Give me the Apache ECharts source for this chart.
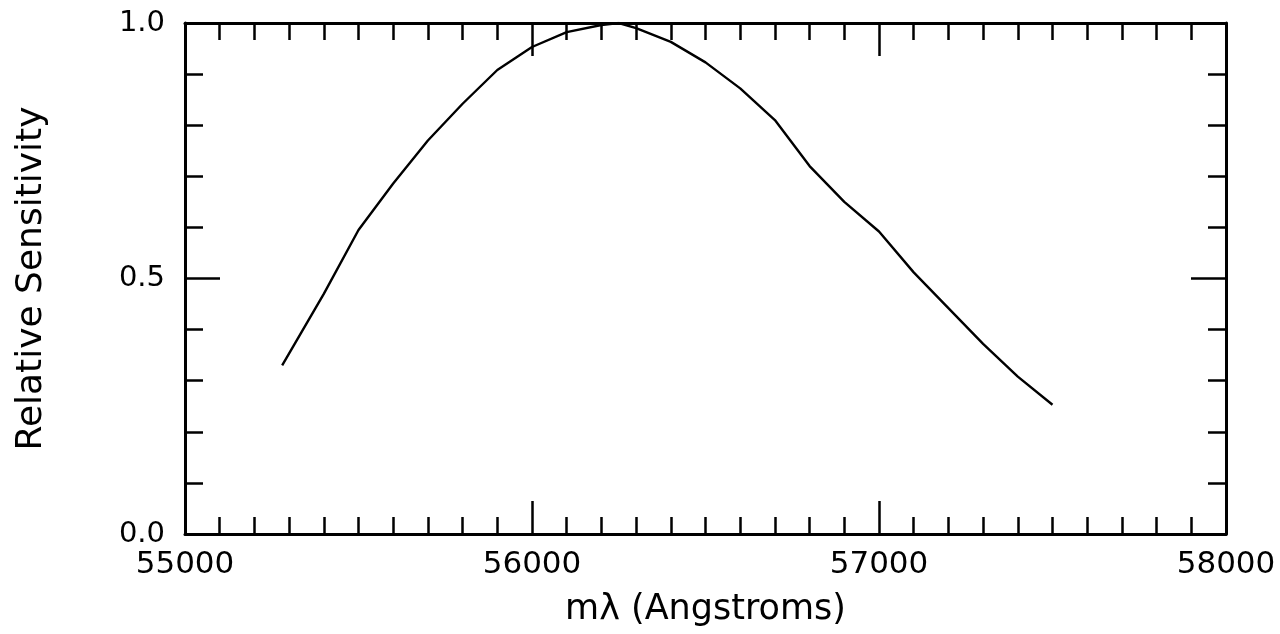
<!DOCTYPE html>
<html>
<head>
<meta charset="utf-8">
<script src="https://cdn.jsdelivr.net/npm/echarts@6/dist/echarts.min.js"></script>
<style>
html,body{margin:0;padding:0;background:#fff;}
#chart{width:1280px;height:634px;}
</style>
</head>
<body>
<div id="chart"></div>
<script>
var wavelengths = [55280, 55400, 55500, 55600, 55700, 55800, 55900, 56000, 56100, 56200, 56250, 56300, 56400, 56500, 56600, 56700, 56800, 56900, 57000, 57100, 57200, 57300, 57400, 57500];
var sensitivity = [0.330, 0.470, 0.595, 0.686, 0.770, 0.842, 0.908, 0.953, 0.982, 0.996, 1.000, 0.990, 0.963, 0.923, 0.872, 0.810, 0.720, 0.650, 0.592, 0.512, 0.442, 0.372, 0.308, 0.253];
var xTitle = 'mλ (Angstroms)';
var yTitle = 'Relative Sensitivity';

var pts = wavelengths.map(function (x, i) { return [x, sensitivity[i]]; });
var font = 'DejaVu Sans';
var axisLine = { show: true, onZero: false, lineStyle: { color: '#000', width: 3 } };
function xAxisDef(pos, showLabel) {
  return {
    type: 'value', position: pos, min: 55000, max: 58000, interval: 1000,
    axisLine: axisLine,
    axisTick: { show: true, inside: true, length: 33, lineStyle: { color: '#000', width: 2.5 } },
    minorTick: { show: true, splitNumber: 10, length: 17, lineStyle: { color: '#000', width: 2.5 } },
    splitLine: { show: false },
    axisLabel: { show: showLabel, color: '#000', fontFamily: font, fontSize: 31, margin: 15, formatter: function (v) { return String(v); } },
    name: showLabel ? xTitle : '', nameLocation: 'middle', nameGap: 58,
    nameTextStyle: { color: '#000', fontFamily: font, fontSize: 35 }
  };
}
function yAxisDef(pos, showLabel) {
  return {
    type: 'value', position: pos, min: 0, max: 1, interval: 0.5,
    axisLine: axisLine,
    axisTick: { show: true, inside: true, length: 35, lineStyle: { color: '#000', width: 2.5 } },
    minorTick: { show: true, splitNumber: 5, length: 18, lineStyle: { color: '#000', width: 2.5 } },
    splitLine: { show: false },
    axisLabel: {
      show: showLabel, color: '#000', fontFamily: font, fontSize: 29, margin: 20,
      formatter: function (v) { return v.toFixed(1); }
    },
    name: showLabel ? yTitle : '', nameLocation: 'middle', nameGap: 135, nameRotate: 90,
    nameTextStyle: { color: '#000', fontFamily: font, fontSize: 36 }
  };
}
var chart = echarts.init(document.getElementById('chart'), null, { renderer: 'canvas' });
chart.setOption({
  animation: false,
  backgroundColor: '#fff',
  grid: { left: 185, right: 54, top: 23, bottom: 100, containLabel: false },
  xAxis: [xAxisDef('bottom', true), xAxisDef('top', false)],
  yAxis: [yAxisDef('left', true), yAxisDef('right', false)],
  series: [{
    type: 'line', data: pts, xAxisIndex: 0, yAxisIndex: 0,
    showSymbol: false, smooth: false,
    lineStyle: { color: '#000', width: 2.4 }
  }]
});
</script>
</body>
</html>
